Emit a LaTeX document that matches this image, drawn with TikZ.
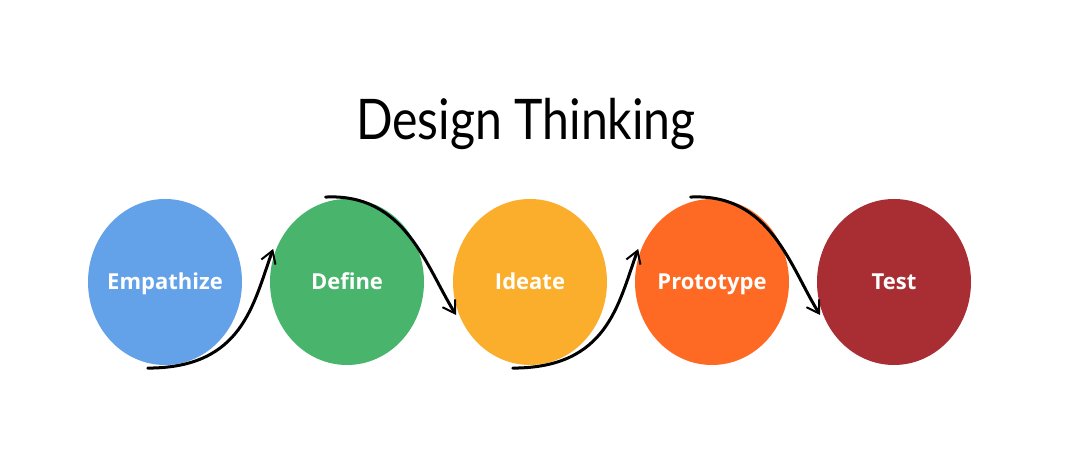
\documentclass[tikz,border=0pt]{standalone}
\usepackage{fontspec}
\usepackage{graphicx}
\newfontfamily\lblfont{Open Sans}
\newfontfamily\titlefont{Lato}
\usetikzlibrary{shapes.geometric,arrows.meta}
\definecolor{cblue}{HTML}{63A1E8}
\definecolor{cgreen}{HTML}{48B46C}
\definecolor{cyellow}{HTML}{FBAE2C}
\definecolor{corange}{HTML}{FE6A23}
\definecolor{cred}{HTML}{A82E34}
\newcommand\zwlabel[1]{\makebox[0pt]{#1}}
\tikzset{
  phase/.style={ellipse, minimum width=154pt, minimum height=166pt, inner sep=0pt,
    text=white, font=\lblfont\bfseries\fontsize{22}{26}\selectfont,
    text height=15.7pt, text depth=0pt},
  arr/.style={line width=3pt, black, line cap=round,
    -{Straight Barb[length=12pt,width=15pt,line width=2pt]}},
  titlestyle/.style={font=\titlefont, anchor=base},
}
\begin{document}
\begin{tikzpicture}[x=1pt,y=1pt]
\useasboundingbox[fill=white] (0,0) rectangle (1080,462);
\node[titlestyle] (title) at (526,322)
  {\scalebox{0.86}[1]{\fontsize{56}{60}\selectfont Design Thinking}};
\node[phase, fill=cblue]   (emp) at (165,180) {\zwlabel{Empathize}};
\node[phase, fill=cgreen]  (def) at (347,180) {\zwlabel{Define}};
\node[phase, fill=cyellow] (ide) at (530,180) {\zwlabel{Ideate}};
\node[phase, fill=corange] (pro) at (712,180) {\zwlabel{Prototype}};
\node[phase, fill=cred]    (tes) at (894,180) {\zwlabel{Test}};
\draw[arr] ([yshift=-5pt]emp.-102) .. controls +(95,0) and +(-20,-55) .. ([xshift=-3pt]def.155);
\draw[arr] ([yshift=5pt]def.105) .. controls +(80,4) and +(-30,48) .. ([xshift=-3pt]ide.205);
\draw[arr] ([yshift=-5pt]ide.-102) .. controls +(95,0) and +(-20,-55) .. ([xshift=-3pt]pro.155);
\draw[arr] ([yshift=5pt]pro.105) .. controls +(80,4) and +(-30,48) .. ([xshift=-3pt]tes.205);
\end{tikzpicture}
\end{document}
